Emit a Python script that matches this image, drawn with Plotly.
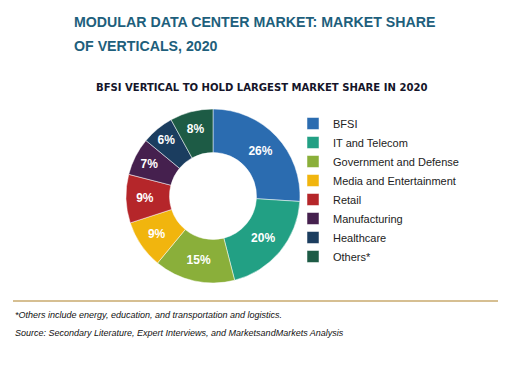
import plotly.graph_objects as go

categories = ["BFSI", "IT and Telecom", "Government and Defense", "Media and Entertainment",
              "Retail", "Manufacturing", "Healthcare", "Others*"]
shares = [26, 20, 15, 9, 9, 7, 6, 8]
colors = ["#2B6CB0", "#22A084", "#8AAF3A", "#F1B50E", "#B5262A", "#45204E", "#1B3D5F", "#1D5B45"]

W, H = 531, 365
cx, cy, r = 205, 188, 87


def py(y):
    return (H - y) / H


fig = go.Figure(go.Pie(
    labels=categories, values=shares, sort=False, direction="clockwise", rotation=0,
    hole=0.5, marker=dict(colors=colors, line=dict(color="white", width=0.5)),
    texttemplate="<b>%{value}%</b>", textposition="inside", insidetextorientation="horizontal",
    textfont=dict(family="Liberation Sans", size=12, color="white"),
    domain=dict(x=[(cx - r) / W, (cx + r) / W], y=[py(cy + r), py(cy - r)]),
))

fig.update_layout(
    width=W, height=H, margin=dict(l=0, r=0, t=0, b=0),
    paper_bgcolor="white", plot_bgcolor="white",
    font=dict(family="Liberation Sans", color="#222"),
    legend=dict(x=285 / W, y=py(101), xanchor="left", yanchor="top",
                font=dict(family="Liberation Sans", size=11, color="#222"),
                tracegroupgap=0, itemwidth=30, bgcolor="rgba(0,0,0,0)"),
    annotations=[
        dict(text="<b>MODULAR DATA CENTER MARKET: MARKET SHARE</b>",
             x=64 / W, y=py(14), xref="paper", yref="paper", xanchor="left", yanchor="middle",
             align="left", showarrow=False,
             font=dict(family="Liberation Sans", size=14.2, color="#1E5F7C")),
        dict(text="<b>OF VERTICALS, 2020</b>",
             x=64 / W, y=py(38), xref="paper", yref="paper", xanchor="left", yanchor="middle",
             align="left", showarrow=False,
             font=dict(family="Liberation Sans", size=14.2, color="#1E5F7C")),
        dict(text="<b>BFSI VERTICAL TO HOLD LARGEST MARKET SHARE IN 2020</b>",
             x=253 / W, y=py(79), xref="paper", yref="paper", xanchor="center", yanchor="middle",
             showarrow=False,
             font=dict(family="DejaVu Sans Condensed, Liberation Sans", size=11.2, color="#15152a")),
        dict(text="<i>*Others include energy, education, and transportation and logistics.</i>",
             x=5 / W, y=py(307), xref="paper", yref="paper", xanchor="left", yanchor="middle",
             showarrow=False, font=dict(family="Liberation Sans", size=9, color="#111")),
        dict(text="<i>Source: Secondary Literature, Expert Interviews, and MarketsandMarkets Analysis</i>",
             x=5 / W, y=py(325), xref="paper", yref="paper", xanchor="left", yanchor="middle",
             showarrow=False, font=dict(family="Liberation Sans", size=9, color="#111")),
    ],
    shapes=[dict(type="line", xref="paper", yref="paper", x0=5 / W, x1=490 / W,
                 y0=py(293), y1=py(293), line=dict(color="#C9AA6E", width=1.5))],
)

fig.write_html("out.html")
